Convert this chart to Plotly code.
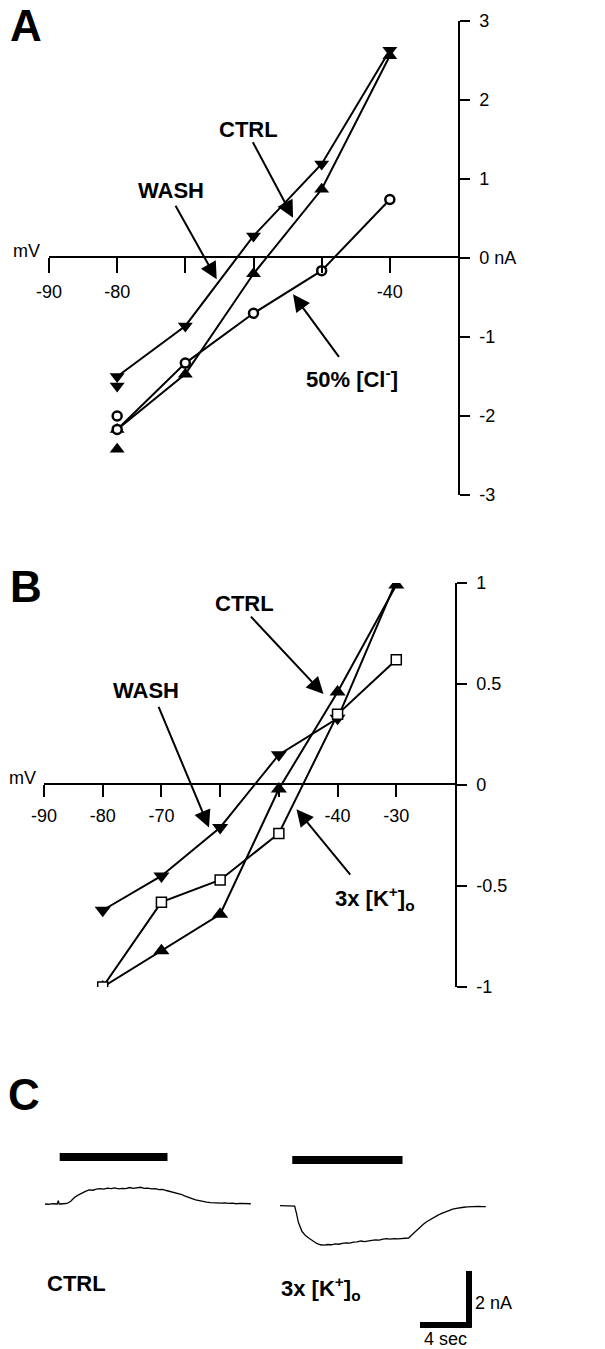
import plotly.graph_objects as go

# ---------------- DATA ----------------
# Panel A: I-V relationship (mV vs nA)
volt_A = [-80, -70, -60, -50, -40]
A_ctrl = [-2.17, -1.47, -0.20, 0.87, 2.56]
A_wash = [-1.50, -0.86, 0.28, 1.19, 2.63]
A_cl50 = [-2.17, -1.33, -0.70, -0.16, 0.74]
# extra overlapping points at -80 mV
A_extra_volt = [-80]
A_extra_ctrl = [-2.42]
A_extra_wash = [-1.62]
A_extra_cl50 = [-2.00]
A_xticks = [-90, -80, -70, -60, -50, -40]
A_xticktext = ["-90", "-80", "", "", "", "-40"]
A_yticks = [-3, -2, -1, 0, 1, 2, 3]
A_yticktext = ["-3", "-2", "-1", "0 nA", "1", "2", "3"]

# Panel B
volt_B = [-80, -70, -60, -50, -40, -30]
B_ctrl = [-1.00, -0.82, -0.64, -0.02, 0.46, 0.99]
B_wash = [-0.62, -0.45, -0.21, 0.15, 0.33, 1.01]
B_k3 = [-1.00, -0.58, -0.47, -0.24, 0.35, 0.62]
B_xticks = [-90, -80, -70, -60, -50, -40, -30]
B_xticktext = ["-90", "-80", "-70", "", "", "-40", "-30"]
B_yticks = [-1, -0.5, 0, 0.5, 1]
B_yticktext = ["-1", "-0.5", "0", "0.5", "1"]

# Panel C: current traces (time in s from trace start, current in nA)
ctrl_t = [0.0, 0.3, 0.6, 0.9, 1.0, 1.08, 1.16, 1.5, 1.8, 2.1, 2.4, 2.7, 3.0, 3.3, 3.6,
          3.9, 4.2, 4.5, 4.8, 5.1, 5.4, 5.7, 6.0, 6.3, 6.6, 6.9, 7.2, 7.5, 7.8, 8.1,
          8.4, 8.7, 9.0, 9.3, 9.6, 9.9, 10.2, 10.5, 10.8, 11.1, 11.4, 11.7, 12.0, 12.3,
          12.6, 12.9, 13.2, 13.5, 13.8, 14.1, 14.4, 14.7, 15.0, 15.3, 15.6, 15.9, 16.2,
          16.5, 16.8]
ctrl_i = [0.00, -0.01, 0.01, 0.00, 0.00, 0.12, 0.00, 0.01, 0.02, 0.10, 0.24, 0.33, 0.41,
          0.47, 0.52, 0.51, 0.55, 0.57, 0.55, 0.59, 0.57, 0.60, 0.56, 0.58, 0.57, 0.61,
          0.58, 0.60, 0.62, 0.58, 0.59, 0.56, 0.57, 0.53, 0.54, 0.50, 0.47, 0.43, 0.41,
          0.36, 0.30, 0.26, 0.20, 0.15, 0.12, 0.08, 0.07, 0.05, 0.04, 0.05, 0.03, 0.04,
          0.02, 0.03, 0.01, 0.02, 0.01, 0.02, 0.01]
k3_t = [0.0, 0.3, 0.6, 0.9, 1.2, 1.35, 1.5, 1.8, 2.1, 2.4, 2.7, 3.0, 3.3, 3.6, 3.9, 4.2,
        4.5, 4.8, 5.1, 5.4, 5.7, 6.0, 6.3, 6.6, 6.9, 7.2, 7.5, 7.8, 8.1, 8.4, 8.7, 9.0,
        9.3, 9.6, 9.9, 10.2, 10.5, 10.8, 11.1, 11.4, 11.7, 12.0, 12.3, 12.6, 12.9, 13.2,
        13.5, 13.8, 14.1, 14.4, 14.7, 15.0, 15.3, 15.6, 15.9, 16.2, 16.5, 16.8]
k3_i = [0.00, 0.00, 0.00, 0.00, -0.02, -0.30, -0.62, -0.96, -1.12, -1.22, -1.32, -1.40,
        -1.45, -1.46, -1.44, -1.45, -1.42, -1.43, -1.40, -1.38, -1.39, -1.35, -1.34,
        -1.31, -1.33, -1.30, -1.29, -1.27, -1.28, -1.24, -1.22, -1.24, -1.22, -1.23,
        -1.22, -1.22, -1.20, -1.07, -0.94, -0.80, -0.69, -0.59, -0.50, -0.42, -0.35,
        -0.29, -0.23, -0.17, -0.13, -0.10, -0.07, -0.06, -0.05, -0.04, -0.05, -0.03,
        -0.04, -0.04]
stim_on = [1.2, 1.0]
stim_off = [10.0, 10.0]
scale_sec = 4
scale_nA = 2

# ---------------- FIGURE ----------------
W, H = 605, 1349
BOLD = "Liberation Sans Narrow, Liberation Sans, Arial"
REG = "Liberation Sans, Arial"

fig = go.Figure()

line_w = 2
def add_series(x, y, symbol, size, xa, ya, fill="black", lw=0, mode="lines+markers"):
    fig.add_trace(go.Scatter(
        x=x, y=y, mode=mode, xaxis=xa, yaxis=ya,
        line=dict(color="black", width=line_w),
        marker=dict(symbol=symbol, size=size, color=fill,
                    line=dict(color="black", width=lw)),
        showlegend=False, hoverinfo="skip"))

# Panel A
add_series(volt_A, A_ctrl, "triangle-up", 13, "x", "y")
add_series(volt_A, A_wash, "triangle-down", 13, "x", "y")
add_series(volt_A, A_cl50, "circle", 9, "x", "y", fill="white", lw=2.5)
add_series(A_extra_volt, A_extra_ctrl, "triangle-up", 13, "x", "y", mode="markers")
add_series(A_extra_volt, A_extra_wash, "triangle-down", 13, "x", "y", mode="markers")
add_series(A_extra_volt, A_extra_cl50, "circle", 9, "x", "y", fill="white", lw=2.5, mode="markers")

# Panel B
add_series(volt_B, B_ctrl, "triangle-up", 14, "x2", "y2")
add_series(volt_B, B_wash, "triangle-down", 14, "x2", "y2")
add_series(volt_B, B_k3, "square", 10, "x2", "y2", fill="white", lw=1.5)

# Panel C
px_per_s = 12.25
px_per_nA = 27.0
left_off = 45 / px_per_s
right_off = 280 / px_per_s
right_base = -0.06
fig.add_trace(go.Scatter(x=[t + left_off for t in ctrl_t], y=ctrl_i, mode="lines",
                         xaxis="x3", yaxis="y3", line=dict(color="black", width=1.3),
                         showlegend=False, hoverinfo="skip"))
fig.add_trace(go.Scatter(x=[t + right_off for t in k3_t], y=[v + right_base for v in k3_i],
                         mode="lines", xaxis="x3", yaxis="y3",
                         line=dict(color="black", width=1.3),
                         showlegend=False, hoverinfo="skip"))

# stimulus bars
bar_levels = [1.74, 1.63]
offs = [left_off, right_off]
shapes = []
for on, off, lev, o in zip(stim_on, stim_off, bar_levels, offs):
    shapes.append(dict(type="line", xref="x3", yref="y3", x0=on + o, x1=off + o,
                       y0=lev, y1=lev, line=dict(color="black", width=8)))
# scale bar
sb_x = 469 / px_per_s
sb_y = -4.48
shapes.append(dict(type="line", xref="x3", yref="y3", x0=sb_x - scale_sec, x1=sb_x + 0.2,
                   y0=sb_y, y1=sb_y, line=dict(color="black", width=6)))
shapes.append(dict(type="line", xref="x3", yref="y3", x0=sb_x, x1=sb_x,
                   y0=sb_y - 0.1, y1=sb_y + scale_nA, line=dict(color="black", width=6)))

def py(px):
    return 1 - px / H

axis_common = dict(showgrid=False, zeroline=False, showline=True, linecolor="black",
                   linewidth=1.5, ticks="outside", tickcolor="black", tickwidth=1.5,
                   automargin=False,
                   tickfont=dict(family=REG, size=18, color="black"), fixedrange=True)

fig.update_layout(
    width=W, height=H, margin=dict(l=0, r=0, t=0, b=0, autoexpand=False),
    paper_bgcolor="white", plot_bgcolor="rgba(0,0,0,0)",
    xaxis=dict(domain=[49 / W, 458 / W], range=[-90, -30], anchor="free",
               position=py(257), tickvals=A_xticks, ticktext=A_xticktext,
               ticklen=15, ticklabelstandoff=4, **axis_common),
    yaxis=dict(domain=[py(495), py(21)], range=[-3, 3], side="right", anchor="x",
               tickvals=A_yticks, ticktext=A_yticktext, ticklen=10,
               ticklabelstandoff=6, **axis_common),
    xaxis2=dict(domain=[44 / W, 455 / W], range=[-90, -20], anchor="free",
                position=py(784), tickvals=B_xticks, ticktext=B_xticktext,
                ticklen=12, ticklabelstandoff=4, **axis_common),
    yaxis2=dict(domain=[py(987), py(583)], range=[-1, 1], side="right", anchor="x2",
                tickvals=B_yticks, ticktext=B_yticktext, ticklen=10,
                ticklabelstandoff=6, **axis_common),
    xaxis3=dict(domain=[0, 1], range=[0, W / px_per_s], visible=False, fixedrange=True,
                automargin=False),
    yaxis3=dict(domain=[0, py(1099)],
                range=[-(H - 1204) / px_per_nA, -(H - 1204) / px_per_nA + 250 / px_per_nA],
                visible=False, anchor="x3", fixedrange=True, automargin=False),
    shapes=shapes,
)

ann = []
def label(text, x, y, xref, yref, size=22, bold=True, xanchor="center", yanchor="middle", fam=None):
    ann.append(dict(text=("<b>%s</b>" % text) if bold else text, x=x, y=y, xref=xref, yref=yref,
                    showarrow=False, xanchor=xanchor, yanchor=yanchor,
                    font=dict(family=fam or BOLD, size=size, color="black")))

def arrow(x, y, ax, ay, xref, yref):
    ann.append(dict(text="", x=x, y=y, ax=ax, ay=ay, xref=xref, yref=yref,
                    showarrow=True, arrowhead=2, arrowsize=1.7, arrowwidth=2,
                    arrowcolor="black"))

# panel letters
label("A", 26 / W, py(26), "paper", "paper", size=44)
label("B", 26 / W, py(586), "paper", "paper", size=44)
label("C", 24 / W, py(1094), "paper", "paper", size=44)

# Panel A labels & arrows
label("CTRL", -60.7, 1.63, "x", "y")
label("WASH", -72.1, 0.85, "x", "y")
label("50% [Cl<sup>-</sup>]", -45.6, -1.52, "x", "y")
arrow(-54.2, 0.51, -41, -77, "x", "y")
arrow(-65.4, -0.27, -42, -75, "x", "y")
arrow(-54.2, -0.46, 47, 64, "x", "y")
label("mV", 26 / W, py(251), "paper", "paper", size=18, bold=False, fam=REG)

# Panel B labels & arrows
label("CTRL", -55.9, 0.90, "x2", "y2")
label("WASH", -72.7, 0.47, "x2", "y2")
label("3x [K<sup>+</sup>]<sub>o</sub>", -33.7, -0.56, "x2", "y2")
arrow(-42.4, 0.45, -74, -79, "x2", "y2")
arrow(-61.9, -0.21, -51, -122, "x2", "y2")
arrow(-47.0, -0.12, 55, 67, "x2", "y2")
label("mV", 22 / W, py(778), "paper", "paper", size=18, bold=False, fam=REG)

# Panel C labels
label("CTRL", 45 / W, py(1283), "paper", "paper", xanchor="left")
label("3x [K<sup>+</sup>]<sub>o</sub>", 279 / W, py(1288), "paper", "paper", xanchor="left")
label("2 nA", 473 / W, py(1303), "paper", "paper", size=18, bold=False, xanchor="left", fam=REG)
label("4 sec", 445 / W, py(1339), "paper", "paper", size=18, bold=False, fam=REG)

fig.update_layout(annotations=ann)
fig.write_html("out.html")
